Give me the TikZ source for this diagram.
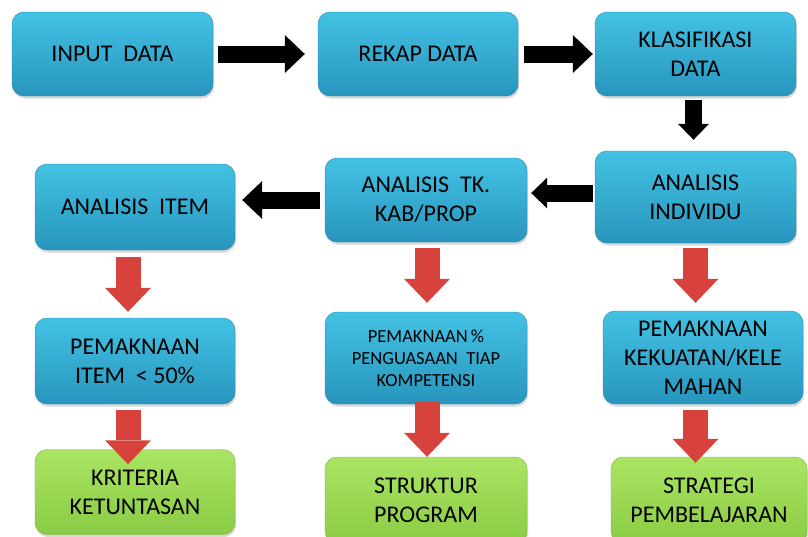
\documentclass[tikz,border=0pt]{standalone}
\usepackage{fontspec}
\setmainfont{Carlito}
\usetikzlibrary{arrows.meta,shadows}
\definecolor{boxtop}{HTML}{43C2E4}
\definecolor{boxbot}{HTML}{2895BD}
\definecolor{boxline}{HTML}{2A86A8}
\definecolor{grntop}{HTML}{A9E563}
\definecolor{grnbot}{HTML}{8BCB45}
\definecolor{grnline}{HTML}{78B23A}
\definecolor{redarr}{HTML}{D8423D}
\tikzset{
	bluebox/.style={draw=boxline, rectangle, rounded corners=12pt, top color=boxtop, bottom color=boxbot, align=center, inner sep=2pt, minimum width=201pt, minimum height=84pt, font=\fontsize{24}{29}\selectfont, drop shadow={shadow xshift=1pt, shadow yshift=-2.5pt, opacity=.3}},
	greenbox/.style={bluebox, draw=grnline, top color=grntop, bottom color=grnbot},
	blackarrow/.style={line width=17pt, -{Triangle[length=20pt, width=38pt, line width=0pt]}},
	smallarrow/.style={line width=17pt, -{Triangle[length=16pt, width=31pt, line width=0pt]}},
	redarrow/.style={redarr, line width=25pt, -{Triangle[length=24pt, width=46pt, line width=0pt]}}
}
\begin{document}
\begin{tikzpicture}[x=1pt, y=-1pt]
			\useasboundingbox (0, 0) rectangle (808, 536);
			\node[bluebox] (INPUT)at(112.5, 54) {INPUT\ \ DATA};
			\node[bluebox, minimum width=200pt] (REKAP)at(418, 54) {REKAP DATA};
			\node[bluebox] (KLAS)at(695.5, 54) {KLASIFIKASI\\DATA};
			\node[bluebox, minimum width=200pt, minimum height=86pt] (ITEM)at(135, 207) {ANALISIS\ \ ITEM};
			\node[bluebox, minimum width=202pt] (KAB)at(426, 200) {ANALISIS\ \ TK.\\KAB/PROP};
			\node[bluebox, minimum height=92pt] (INDIV)at(695.5, 197) {ANALISIS\\INDIVIDU};
			\node[bluebox, minimum width=200pt, minimum height=86pt] (PITEM)at(135, 361) {PEMAKNAAN\\ITEM\ \ < 50\%};
			\node[bluebox, minimum width=202pt, minimum height=92pt, font=\fontsize{18.5}{22}\selectfont] (PKOMP)at(426, 358) {PEMAKNAAN\,\%\\PENGUASAAN\ \ TIAP\\KOMPETENSI};
			\node[bluebox, minimum width=200pt, minimum height=93pt] (PKUAT)at(703, 357.5) {PEMAKNAAN\\KEKUATAN/KELE\\MAHAN};
			\node[greenbox, minimum width=200pt, minimum height=85pt] (KRIT)at(135, 492) {KRITERIA\\KETUNTASAN};
			\node[greenbox, minimum width=202pt, minimum height=86pt] (STRUK)at(426, 500) {STRUKTUR\\PROGRAM};
			\node[greenbox, minimum width=196pt, minimum height=86pt] (STRAT)at(709, 500) {STRATEGI\\PEMBELAJARAN};
			\draw[blackarrow, shorten <=5pt, shorten >=13pt] (INPUT.east) -- (REKAP.west);
			\draw[blackarrow, shorten <=6pt, shorten >=2pt] (REKAP.east) -- (KLAS.west);
			\draw[smallarrow, shorten <=4pt, shorten >=11pt] ([xshift=-2pt]KLAS.south) -- ([xshift=-2pt]KLAS.south |- INDIV.north);
			\draw[blackarrow, shorten <=5pt, shorten >=7pt] (KAB.west) -- (KAB.west -| ITEM.east);
			\draw[smallarrow, shorten <=2pt, shorten >=4pt] ([yshift=4pt]INDIV.west) -- ([yshift=4pt]INDIV.west -| KAB.east);
			\draw[redarrow, shorten <=7pt, shorten >=6pt] ([xshift=-7pt]ITEM.south) -- ([xshift=-7pt]PITEM.north);
			\draw[redarrow, shorten <=6pt, shorten >=-15pt] ([xshift=-7pt]PITEM.south) -- ([xshift=-7pt]KRIT.north);
			\draw[redarrow, shorten <=6pt, shorten >=9pt] ([xshift=1pt]KAB.south) -- ([xshift=1pt]PKOMP.north);
			\draw[redarrow, shorten <=-2pt, shorten >=0pt] ([xshift=1pt]PKOMP.south) -- ([xshift=1pt]STRUK.north);
			\draw[redarrow, shorten <=5pt, shorten >=8pt] (INDIV.south) -- (INDIV.south |- PKUAT.north);
			\draw[redarrow, shorten <=6pt, shorten >=-6pt] (PKUAT.south -| INDIV.south) -- (STRAT.north -| INDIV.south);
		\end{tikzpicture}
\end{document}
